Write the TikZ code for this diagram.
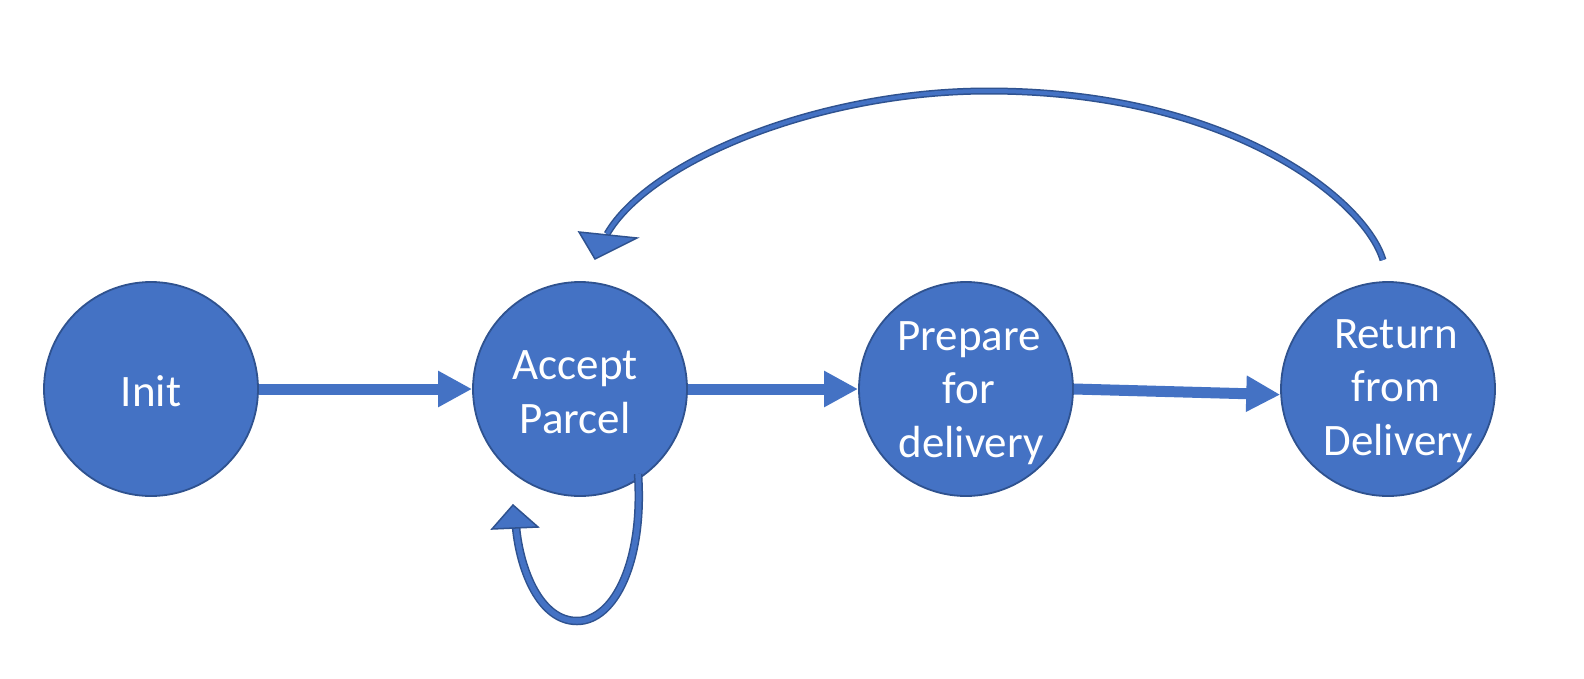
\documentclass[tikz,border=0pt]{standalone}
\usepackage{fontspec}
\setmainfont{Carlito}
\usetikzlibrary{arrows.meta}
\definecolor{fillc}{HTML}{4472C4}
\definecolor{edgec}{HTML}{2F528F}
\begin{document}
\begin{tikzpicture}[x=1pt,y=-1pt,
  state/.style={circle,draw=edgec,fill=fillc,line width=1.8pt,minimum size=214pt,inner sep=0pt},
  lbl/.style={anchor=base,text=white,font=\fontsize{45}{54}\selectfont,inner sep=0pt},
  straight/.style={draw=fillc,line width=11pt,-{Triangle[length=34pt,width=34pt]}},
  outlined/.style={draw=edgec,line width=1.5pt,double=fillc},
  headc/.style={fill=fillc,draw=edgec,line width=1.5pt,line join=miter}]
\useasboundingbox (0,0) rectangle (1584,678);
\fill[white] (0,0) rectangle (1584,678);

\node[state] (init) at (151,389) {};
\node[state] (acc) at (580,389) {};
\node[state] (prep) at (966,389) {};
\node[state] (ret) at (1388,389) {};

\node[lbl] (t1) at (151,406) {Init};
\node[lbl] (t2) at (575,379) {Accept};
\node[lbl] (t3) at (575,433) {Parcel};
\node[lbl] (t4) at (969,350) {Prepare};
\node[lbl] (t5) at (969,403) {for};
\node[lbl] (t6) at (971,457) {delivery};
\node[lbl] (t7) at (1396,348) {Return};
\node[lbl] (t8) at (1396,401) {from};
\node[lbl] (t9) at (1398,455) {Delivery};

\draw[straight] (init) -- (acc);
\draw[straight] (acc) -- (prep);
\draw[straight] (prep.-0.5) -- (ret.183);

% return arc
\coordinate (rs) at (1383,260);
\coordinate (rm) at (988,91);
\coordinate (re) at (607,234);
\coordinate (rh1) at (579,232);
\coordinate (rh2) at (637,238);
\coordinate (rh3) at (595,259);
\draw[outlined,double distance=4pt] (rs) .. controls (1365,200) and (1230,91) .. (rm)
  .. controls (820,91) and (650,160) .. (re);
\draw[headc] (rh1) -- (rh2) -- (rh3) -- cycle;

% self loop
\coordinate (ls) at (638,474);
\coordinate (lm) at (577,621);
\coordinate (le) at (516,527);
\coordinate (lh1) at (492,529);
\coordinate (lh2) at (538,527);
\coordinate (lh3) at (513,505);
\draw[outlined,double distance=5.5pt] (ls) .. controls (644,560) and (615,621) .. (lm)
  .. controls (540,621) and (520,570) .. (le);
\draw[headc] (lh1) -- (lh2) -- (lh3) -- cycle;
\end{tikzpicture}
\end{document}
